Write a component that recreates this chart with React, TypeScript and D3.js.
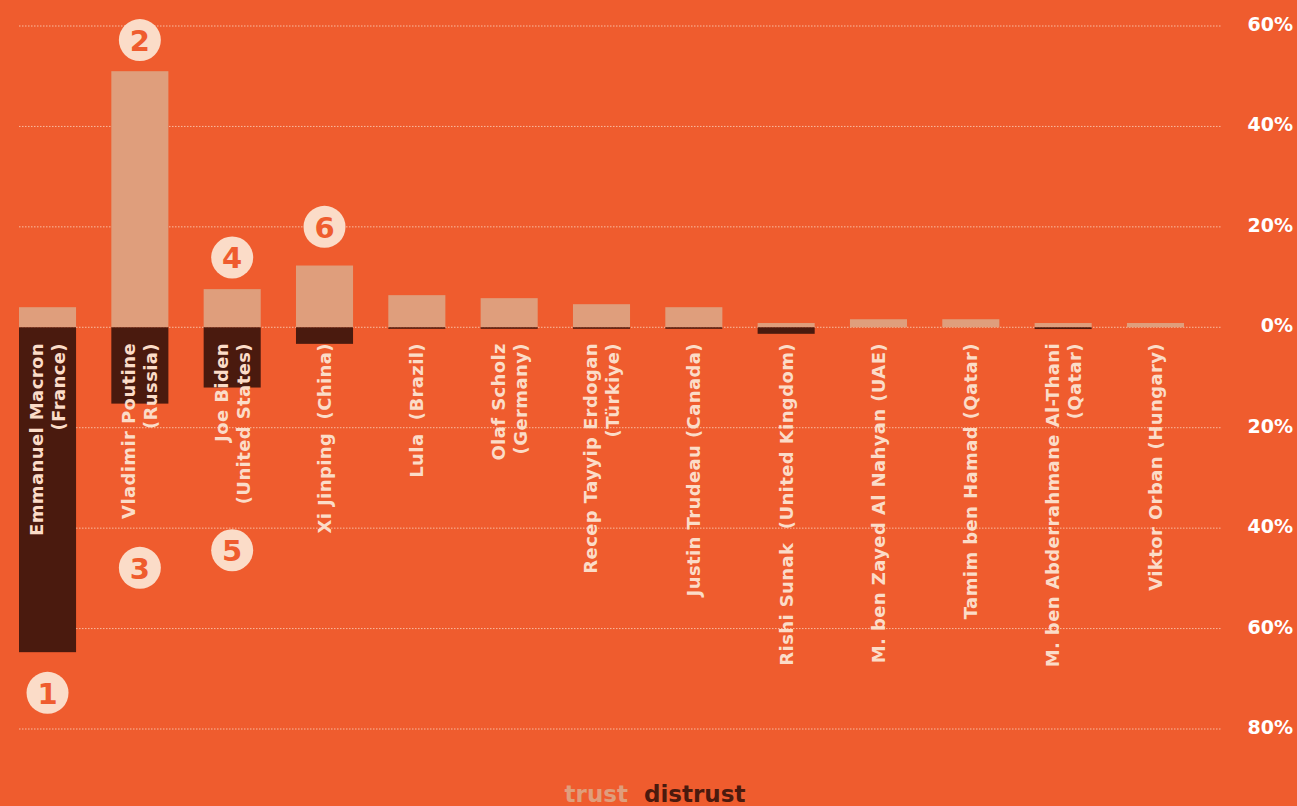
import React from 'react';
import * as d3 from 'd3';

// Leaders (label lines), trust % and distrust %
const leaders: string[][] = [
  ['Emmanuel Macron', '(France)'],
  ['Vladimir Poutine', '(Russia)'],
  ['Joe Biden', '(United States)'],
  ['Xi Jinping  (China)'],
  ['Lula  (Brazil)'],
  ['Olaf Scholz', '(Germany)'],
  ['Recep Tayyip Erdogan', '(Türkiye)'],
  ['Justin Trudeau (Canada)'],
  ['Rishi Sunak  (United Kingdom)'],
  ['M. ben Zayed Al Nahyan (UAE)'],
  ['Tamim ben Hamad (Qatar)'],
  ['M. ben Abderrahmane Al-Thani', '(Qatar)'],
  ['Viktor Orban (Hungary)'],
];
const trust = [4.0, 51.0, 7.6, 12.3, 6.4, 5.8, 4.6, 4.0, 0.85, 1.6, 1.6, 0.85, 0.85];
const distrust = [64.7, 15.2, 12.0, 3.3, 0.3, 0.3, 0.3, 0.3, 1.3, 0, 0, 0.35, 0];

// Numbered badges: leader index and the value level where the badge sits
const badgeNums = [1, 2, 3, 4, 5, 6];
const badgeLeader = [0, 1, 1, 2, 2, 3];
const badgeLevel = [-72.8, 57.2, -47.9, 13.9, -44.4, 20.0];

const yTicks = [60, 40, 20, 0, -20, -40, -60, -80];

const BG = '#EF5C2E';
const TRUST = '#DF9E7C';
const DISTRUST = '#4A1A0E';
const PALE = '#FBDCC8';
const FONT = '"DejaVu Sans", sans-serif';

const W = 1297;
const H = 806;

export default function App() {
  const x = d3
    .scaleBand<number>()
    .domain(d3.range(leaders.length))
    .range([19, 1184])
    .paddingInner(0.382)
    .paddingOuter(0);
  const y = d3.scaleLinear().domain([60, -80]).range([26, 729]);
  const bw = x.bandwidth();
  const y0 = y(0);

  return (
    <svg
      width={W}
      height={H}
      style={{ position: 'absolute', left: 0, top: 0, display: 'block', background: BG }}
    >
      <rect width={W} height={H} fill={BG} />

      {/* gridlines */}
      {yTicks.map((t) => (
        <line
          key={'g' + t}
          x1={19}
          x2={1222}
          y1={y(t)}
          y2={y(t)}
          stroke={PALE}
          strokeOpacity={0.75}
          strokeWidth={1}
          strokeDasharray="1.5,1.5"
        />
      ))}

      {/* right axis labels */}
      {yTicks.map((t) => (
        <text
          key={'t' + t}
          x={1293}
          y={y(t) - 2}
          textAnchor="end"
          dominantBaseline="central"
          fill="#FFFFFF"
          fontFamily={FONT}
          fontWeight={700}
          fontSize={19}
        >
          {Math.abs(t)}%
        </text>
      ))}

      {/* bars */}
      {leaders.map((_, i) => (
        <g key={'b' + i}>
          <rect x={x(i)} y={y(trust[i])} width={bw} height={y0 - y(trust[i])} fill={TRUST} />
          {distrust[i] > 0 && (
            <rect x={x(i)} y={y0} width={bw} height={y(-distrust[i]) - y0} fill={DISTRUST} />
          )}
        </g>
      ))}

      {/* rotated leader labels */}
      {leaders.map((lines, i) => {
        const cx = (x(i) as number) + bw / 2;
        return lines.map((ln, j) => {
          const off = lines.length === 1 ? 0 : j === 0 ? -11 : 11;
          const tx = cx + off;
          return (
            <text
              key={'l' + i + '-' + j}
              transform={`translate(${tx},343) rotate(-90)`}
              textAnchor="end"
              dominantBaseline="central"
              fill={PALE}
              fontFamily={FONT}
              fontWeight={700}
              fontSize={18}
              letterSpacing={0.4}
              style={{ whiteSpace: 'pre' }}
            >
              {ln}
            </text>
          );
        });
      })}

      {/* numbered badges */}
      {badgeNums.map((n, k) => {
        const cx = (x(badgeLeader[k]) as number) + bw / 2;
        const cy = y(badgeLevel[k]);
        return (
          <g key={'n' + n}>
            <circle cx={cx} cy={cy} r={21} fill={PALE} />
            <text
              x={cx}
              y={cy + 1}
              textAnchor="middle"
              dominantBaseline="central"
              fill={BG}
              fontFamily={FONT}
              fontWeight={700}
              fontSize={29}
            >
              {n}
            </text>
          </g>
        );
      })}

      {/* legend */}
      <text
        x={655}
        y={802}
        textAnchor="middle"
        fontFamily={FONT}
        fontWeight={700}
        fontSize={23}
        style={{ whiteSpace: 'pre' }}
      >
        <tspan fill={TRUST}>trust</tspan>
        <tspan fill={DISTRUST}>{'  distrust'}</tspan>
      </text>
    </svg>
  );
}
